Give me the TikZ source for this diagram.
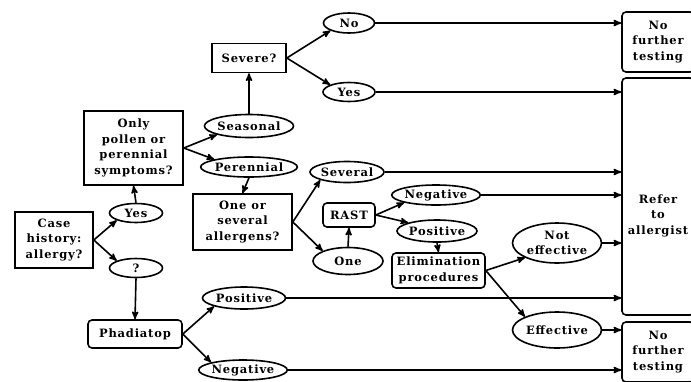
\documentclass[tikz,border=0pt]{standalone}
\usepackage{fontspec}
\setmainfont{DejaVu Serif}[LetterSpace=7]
\usetikzlibrary{arrows}
\usetikzlibrary{shapes.geometric}

\begin{document}
\begin{tikzpicture}[x=1pt, y=-1pt, >=stealth',
  every node/.style={font=\bfseries\fontsize{11.5}{15.5}\selectfont, align=center, line width=1.6pt},
  box/.style={draw, rectangle, inner sep=1pt},
  rbox/.style={box, rounded corners=4pt},
  oval/.style={draw, ellipse, inner sep=0pt},
  conn/.style={line width=1.6pt, ->}]
\useasboundingbox (0,0) rectangle (691,381);
\clip (0,0) rectangle (691,381);
% left part
\node[box, minimum width=78, minimum height=56] (case) at (54,240) {Case\\history:\\allergy?};
\node[oval, minimum width=53, minimum height=19] (yes1) at (136,213) {Yes};
\node[oval, minimum width=53, minimum height=19] (q) at (136,268) {?};
\node[box, minimum width=99, minimum height=74] (pollen) at (133.5,148) {Only\\pollen or\\perennial\\symptoms?};
\node[rbox, minimum width=94, minimum height=28] (phad) at (135,334) {Phadiatop};
\node[oval, minimum width=83, minimum height=22] (pos1) at (244,298) {Positive};
\node[oval, minimum width=80, minimum height=20] (neg1) at (243,370) {Negative};
% middle part
\node[oval, minimum width=88, minimum height=23] (seas) at (249,126) {Seasonal};
\node[oval, minimum width=88, minimum height=20] (peren) at (249,167) {Perennial};
\node[box, minimum width=74, minimum height=29] (severe) at (249,58) {Severe?};
\node[oval, minimum width=51, minimum height=20] (no) at (349,23) {No};
\node[oval, minimum width=52, minimum height=19] (yes2) at (349,92) {Yes};
\node[box, minimum width=99, minimum height=56] (alg) at (242.5,222) {One or\\several\\allergens?};
\node[oval, minimum width=71, minimum height=21] (sev) at (347,172) {Several};
\node[oval, minimum width=70, minimum height=27] (one) at (348,261) {One};
\node[rbox, minimum width=52, minimum height=24] (rast) at (349,215) {RAST};
\node[oval, minimum width=82, minimum height=20] (neg2) at (436,195) {Negative};
\node[oval, minimum width=80, minimum height=22] (pos2) at (437,231) {Positive};
\node[rbox, minimum width=93, minimum height=35] (elim) at (438.5,270.5) {Elimination\\procedures};
\node[oval, minimum width=89, minimum height=40] (noteff) at (557,243) {Not\\effective};
\node[oval, minimum width=89, minimum height=36] (eff) at (557,330) {Effective};
% right part
\node[rbox, minimum width=72, minimum height=60] (nft1) at (658,42) {No\\further\\testing};
\node[rbox, minimum width=72, minimum height=237,
  label={[yshift=-19pt, align=center]center:Refer\\to\\allergist}] (refer) at (658,196.5) {};
\node[rbox, minimum width=72, minimum height=60] (nft2) at (658,352) {No\\further\\testing};
% connectors
\draw[conn] (case.east) -- (yes1.south west);
\draw[conn] (case.east) -- (q.north west);
\draw[conn] (yes1.north) -- (pollen.south);
\draw[conn] (q.south) -- (phad.north);
\draw[conn] (phad.east) -- (pos1.south west);
\draw[conn] (phad.east) -- (neg1.north west);
\draw[conn] (pollen.east) -- (seas.south west);
\draw[conn] (pollen.east) -- (peren.north west);
\draw[conn] (seas.north) -- (severe.south);
\draw[conn] (severe.east) -- (no.south west);
\draw[conn] (severe.east) -- (yes2.north west);
\draw[conn] (peren.south) -- (alg.north);
\draw[conn] (alg.east) -- (sev.south west);
\draw[conn] (alg.east) -- (one.north west);
\draw[conn] (one.north) -- (rast.south);
\draw[conn] (rast.east) -- (neg2.south west);
\draw[conn] (rast.east) -- (pos2.north west);
\draw[conn] (pos2.south) -- (elim.north);
\draw[conn] (elim.east) -- (noteff.south west);
\draw[conn] (elim.east) -- (eff.north west);
\draw[conn] (no.east) -- (no -| nft1.west);
\draw[conn] (yes2.east) -- (yes2 -| refer.west);
\draw[conn] (sev.east) -- (sev -| refer.west);
\draw[conn] (neg2.east) -- (neg2 -| refer.west);
\draw[conn] (noteff.east) -- (noteff -| refer.west);
\draw[conn] (pos1.east) -- (pos1 -| refer.west);
\draw[conn] (eff.east) -- (eff -| nft2.west);
\draw[conn] (neg1.east) -- (neg1 -| nft2.west);
\end{tikzpicture}
\end{document}
